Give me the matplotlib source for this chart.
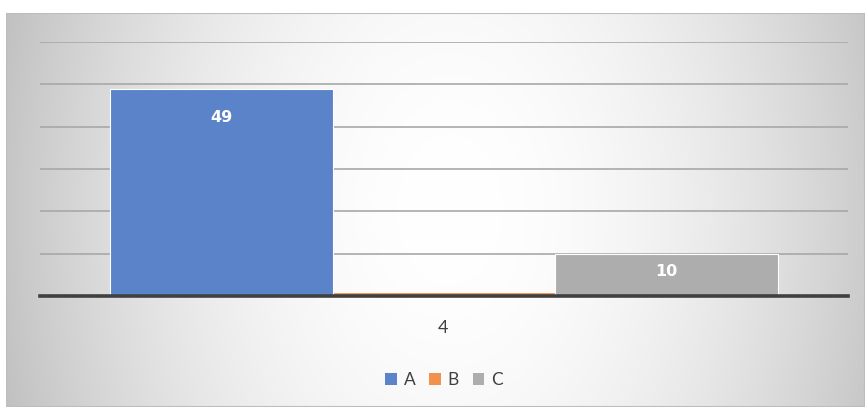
import numpy as np
import matplotlib
matplotlib.use("Agg")
import matplotlib.pyplot as plt
from matplotlib.patches import Patch, Rectangle

categories = ["4"]
series = ["A", "B", "C"]
values = [49, 1, 10]
colors = ["#5A83C9", "#F0914E", "#ADADAD"]
yticks = [0, 10, 20, 30, 40, 50, 60]

W, H = 865, 407
fig = plt.figure(figsize=(W / 100, H / 100), dpi=100)
fig.patch.set_facecolor("white")

# gradient background
bg = fig.add_axes([6 / W, 0, 1 - 6 / W, (H - 13) / H])
bg.set_axis_off()
xs = np.linspace(6, W, 600)
ys = np.linspace(13, H, 300)
X, Y = np.meshgrid(xs, ys)
r = np.sqrt(((X - 450) / 450) ** 2 + ((Y - 210) / 650) ** 2)
v = 1 - 0.23 * np.clip(r, 0, 1.2) ** 1.9
img = np.dstack([v, v, v])
bg.imshow(img, aspect="auto", extent=[0, 1, 0, 1], origin="upper")
bg.add_patch(Rectangle((0, 0), 1, 1, transform=bg.transAxes, fill=False,
                       edgecolor="#bdbdbd", linewidth=1.5))
bg.set_xlim(0, 1)
bg.set_ylim(0, 1)

left, right = 40 / W, 848 / W
bottom, top = (H - 296) / H, (H - 42) / H
ax = fig.add_axes([left, bottom, right - left, top - bottom])
ax.patch.set_alpha(0)

x = np.arange(len(series)) - 1
bars = ax.bar(x, values, width=1.0, color=colors, edgecolor="white", linewidth=0.8, zorder=3)
ax.set_xlim(-1.816, 1.816)
ax.set_ylim(0, 60)
for t in yticks[1:]:
    ax.axhline(t, color="#a8a8a8", linewidth=1.2, zorder=1)
ax.axhline(0, color="#404040", linewidth=2.6, zorder=4, clip_on=False)
for s in ax.spines.values():
    s.set_visible(False)
ax.set_xticks([])
ax.set_yticks([])

label_offsets_px = {49: 29, 10: 18}
for b, v_ in zip(bars, values):
    if v_ >= 5:
        ax.annotate(str(v_), (b.get_x() + b.get_width() / 2, v_),
                    xytext=(0, -label_offsets_px.get(v_, 18) * 0.72), textcoords="offset points",
                    ha="center", va="center", color="white", fontsize=11.5,
                    fontweight="bold", family="DejaVu Sans", zorder=5)

fig.text(443 / W, 1 - 328 / H, categories[0], ha="center", va="center", fontsize=13,
         color="#404040", family="Lato")

handles = [Patch(facecolor=c, edgecolor="none") for c in colors]
fig.legend(handles, series, loc="center", bbox_to_anchor=(444 / W, 1 - 380 / H), ncol=3,
           frameon=False, prop={"family": "Lato", "size": 12.5}, handlelength=0.65,
           handleheight=0.65, handletextpad=0.4, columnspacing=0.8, labelcolor="#404040")

fig.savefig("out.png", dpi=100)
